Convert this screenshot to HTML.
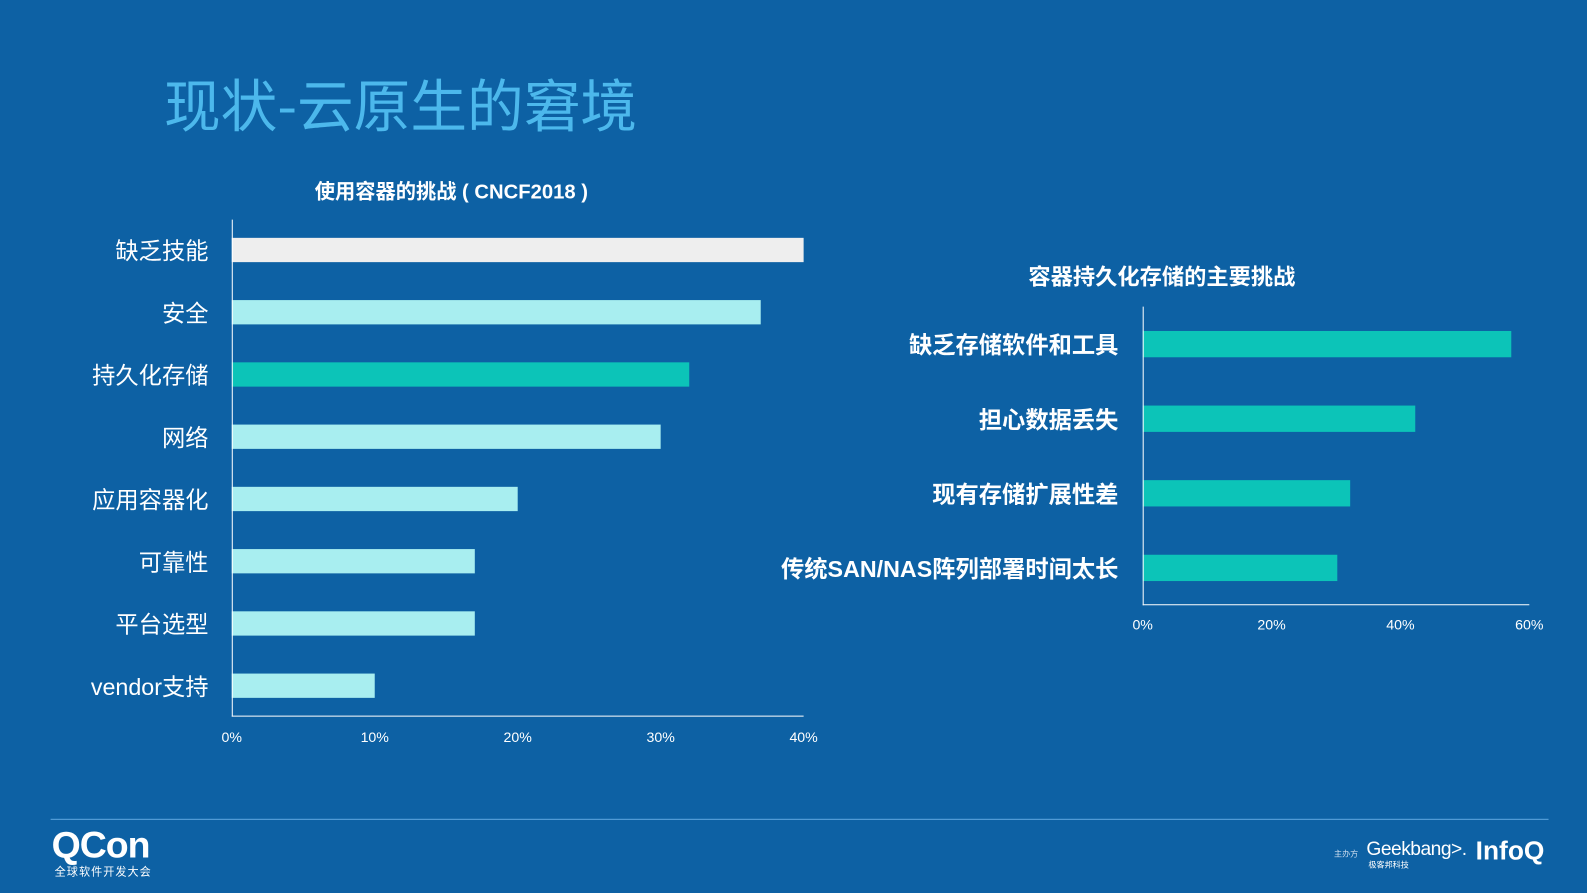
<!DOCTYPE html>
<html><head><meta charset="utf-8"><style>
body{margin:0;width:1587px;height:893px;background:#0d61a4;overflow:hidden;font-family:"Liberation Sans","Noto Sans CJK SC",sans-serif;position:relative}
#wrap{position:absolute;left:0;top:0;width:1568px;height:882px;transform:scale(1.01212);transform-origin:0 0}
.t{position:absolute;white-space:nowrap}
</style></head><body>
<div id="wrap">
<div class="t" style="left:162px;top:61px;font-size:56px;color:#4cb8ec;font-family:'Noto Sans CJK SC',sans-serif">现状-云原生的窘境</div>
<svg width="1568" height="882" style="position:absolute;left:0;top:0" id="svg"></svg>
<div style="position:absolute;left:50px;top:809px;width:1480px;height:1px;background:#5fa8e0"></div>
<div class="t" style="left:51px;top:814px;font-size:37px;font-weight:bold;color:#fff;letter-spacing:-1px">QCon</div>
<div class="t" style="left:54px;top:853px;font-size:11px;color:#fff;letter-spacing:1px">全球软件开发大会</div>
<div class="t" style="left:1318px;top:838px;font-size:8px;color:#cde">主办方</div>
<div class="t" style="left:1350px;top:829px;font-size:19px;color:#fff;letter-spacing:-0.5px">Geekbang&gt;.</div>
<div class="t" style="left:1352px;top:849px;font-size:8px;color:#fff">极客邦科技</div>
<div class="t" style="left:1458px;top:825px;font-size:26px;font-weight:bold;color:#fff">InfoQ</div>
</div>
<script>
const leftCats=["缺乏技能","安全","持久化存储","网络","应用容器化","可靠性","平台选型","vendor支持"];
const leftVals=[40,37,32,30,20,17,17,10];
const leftColors=["#eeeeee","#a8eef0","#0cc4b8","#a8eef0","#a8eef0","#a8eef0","#a8eef0","#a8eef0"];
const leftTicks=["0%","10%","20%","30%","40%"];
const rightCats=["缺乏存储软件和工具","担心数据丢失","现有存储扩展性差","传统SAN/NAS阵列部署时间太长"];
const rightVals=[57.2,42.3,32.2,30.2];
const rightTicks=["0%","20%","40%","60%"];
const svg=document.getElementById('svg');const NS="http://www.w3.org/2000/svg";
function el(tag,a,txt){const e=document.createElementNS(NS,tag);for(const k in a)e.setAttribute(k,a[k]);if(txt!=null)e.textContent=txt;svg.appendChild(e);return e;}
const lx=v=>229+v/40*565, ly=i=>247+i*61.5;
let e=el('text',{x:446,y:196,'font-size':20,'font-weight':'bold',fill:'#fff','text-anchor':'middle'},'使用容器的挑战 ( CNCF2018 )');

leftVals.forEach((v,i)=>{
 let r=el('rect',{x:lx(0),y:ly(i)-12,width:lx(v)-lx(0),height:24,fill:leftColors[i]});
 
 let t=el('text',{x:206,y:ly(i)+9,'font-size':23,fill:'#fff','text-anchor':'end'},leftCats[i]);
 
});
e=el('line',{x1:229.5,y1:217,x2:229.5,y2:708,stroke:'#fff','stroke-width':1});
e=el('line',{x1:229,y1:707.5,x2:794,y2:707.5,stroke:'#fff','stroke-width':1});
leftTicks.forEach((s,i)=>{let t=el('text',{x:lx(i*10),y:733,'font-size':14,fill:'#fff','text-anchor':'middle'},s);
 });
const rx=v=>1129+v/60*382, ry=i=>340+i*73.7;
e=el('text',{x:1148,y:281,'font-size':22,'font-weight':'bold',fill:'#fff','text-anchor':'middle'},'容器持久化存储的主要挑战');

rightVals.forEach((v,i)=>{
 let r=el('rect',{x:rx(0),y:ry(i)-13,width:rx(v)-rx(0),height:26,fill:'#0cc4b8'});
 
 let t=el('text',{x:1105,y:ry(i)+9,'font-size':23,'font-weight':'bold',fill:'#fff','text-anchor':'end'},rightCats[i]);
 
});
e=el('line',{x1:1129.5,y1:303,x2:1129.5,y2:598,stroke:'#fff','stroke-width':1});
e=el('line',{x1:1129,y1:597.5,x2:1511,y2:597.5,stroke:'#fff','stroke-width':1});
rightTicks.forEach((s,i)=>{let t=el('text',{x:rx(i*20),y:622,'font-size':14,fill:'#fff','text-anchor':'middle'},s);
 });
</script>
</body></html>
